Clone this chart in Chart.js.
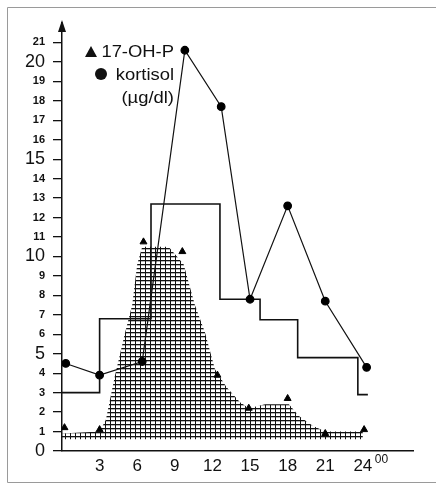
<!DOCTYPE html>
<html>
<head>
<meta charset="utf-8">
<script src="https://cdn.jsdelivr.net/npm/chart.js@4.4.0/dist/chart.umd.min.js"></script>
<style>
  html, body { margin: 0; padding: 0; background: #fff; }
  #wrap { position: relative; width: 437px; height: 484px; }
</style>
</head>
<body>
<div id="wrap"><canvas id="hormoneChart"></canvas></div>
<script>
// cortisol (circles, joined)
const cortisolHours = [0.3, 3, 6.4, 9.8, 12.7, 15, 18, 21, 24.3];
const cortisolValues = [4.5, 3.9, 4.6, 20.6, 17.7, 7.8, 12.6, 7.7, 4.3];

// 17-OH-P (triangles)
const ohpHours = [0.2, 3, 6.5, 9.6, 12.4, 14.9, 18, 21, 24.1];
const ohpValues = [1.2, 1.1, 10.75, 10.25, 3.9, 2.2, 2.7, 0.9, 1.1];

// step line
const stepHours = [0, 3, 7.1, 12.6, 15.8, 18.8, 23.6, 24.4];
const stepValues = [3, 6.8, 12.7, 7.8, 6.75, 4.8, 2.9, 2.9];

// hatched band, upper edge
const hatchHours = [0, 3, 3.5, 4.2, 5, 5.6, 6, 6.4, 8.5, 9.7, 10.6, 11.4, 12.2, 13.1, 14.2, 14.9, 16.2, 18.1, 18.9, 20, 21, 24];
const hatchUpper = [0.9, 1.0, 1.6, 3.8, 6.0, 7.5, 9.6, 10.5, 10.5, 9.6, 7.5, 6.1, 4.2, 3.3, 2.5, 2.2, 2.4, 2.4, 1.8, 1.3, 1.0, 1.0];
const hatchBase = 0.6;

const xTickLabels = [3, 6, 9, 12, 15, 18, 21, 24];
const yBigLabels = [0, 5, 10, 15, 20];
const yTopLabel = 21;

const FONT = "'Liberation Sans', Arial, sans-serif";

function toPoints(xs, ys) {
  return xs.map((x, i) => ({ x: x, y: ys[i] }));
}

function makeHatch(ctx) {
  const c = document.createElement("canvas");
  c.width = 5;
  c.height = 4;
  const g = c.getContext("2d");
  g.fillStyle = "#111";
  g.fillRect(0, 0, 5, 1.3);
  g.fillRect(0, 0, 1, 4);
  return ctx.createPattern(c, "repeat");
}

const decor = {
  id: "decor",
  afterDraw(chart) {
    const ctx = chart.ctx;
    const area = chart.chartArea;
    const yAxisX = chart.scales.x.getPixelForValue(0);
    ctx.save();

    // frame
    ctx.strokeStyle = "#9a9a9a";
    ctx.lineWidth = 1;
    ctx.beginPath();
    ctx.moveTo(7.5, 7.5); ctx.lineTo(436, 7.5);
    ctx.moveTo(7.5, 7.5); ctx.lineTo(7.5, 482.5);
    ctx.lineTo(436, 482.5);
    ctx.stroke();

    // arrow on y axis
    ctx.fillStyle = "#111";
    ctx.beginPath();
    ctx.moveTo(yAxisX, area.top - 3);
    ctx.lineTo(yAxisX - 4, area.top + 9);
    ctx.lineTo(yAxisX + 4, area.top + 9);
    ctx.closePath();
    ctx.fill();

    // legend
    ctx.textAlign = "right";
    ctx.textBaseline = "alphabetic";
    ctx.font = "16px " + FONT;
    const lines = [["17-OH-P", 57], ["kortisol", 80], ["(\u00b5g/dl)", 103]];
    lines.forEach(([t, y]) => {
      ctx.save();
      ctx.translate(174, y);
      ctx.scale(1.15, 1);
      ctx.fillText(t, 0, 0);
      ctx.restore();
    });
    ctx.beginPath();
    ctx.moveTo(91, 46);
    ctx.lineTo(85, 57);
    ctx.lineTo(97, 57);
    ctx.closePath();
    ctx.fill();
    ctx.beginPath();
    ctx.arc(101, 74, 6, 0, Math.PI * 2);
    ctx.fill();

    // 24^00
    ctx.textAlign = "left";
    ctx.font = "12px " + FONT;
    ctx.fillText("00", chart.scales.x.getPixelForValue(24) + 12, 463);
    ctx.restore();
  },
};

const canvas = document.getElementById("hormoneChart");
const hatch = makeHatch(canvas.getContext("2d"));

new Chart(canvas, {
  type: "line",
  data: {
    datasets: [
      {
        label: "band",
        data: toPoints(hatchHours, hatchUpper),
        borderWidth: 0,
        pointRadius: 0,
        backgroundColor: hatch,
        fill: { value: hatchBase },
        order: 4,
      },
      {
        label: "step",
        data: toPoints(stepHours, stepValues),
        stepped: "before",
        borderColor: "#111",
        borderWidth: 1.6,
        pointRadius: 0,
        fill: false,
        order: 3,
      },
      {
        label: "kortisol",
        data: toPoints(cortisolHours, cortisolValues),
        borderColor: "#111",
        borderWidth: 1.2,
        pointRadius: 3.8,
        pointStyle: "circle",
        pointBackgroundColor: "#000",
        pointBorderColor: "#000",
        fill: false,
        order: 2,
      },
      {
        label: "17-OH-P",
        data: toPoints(ohpHours, ohpValues),
        showLine: false,
        pointRadius: 4,
        pointStyle: "triangle",
        pointBackgroundColor: "#000",
        pointBorderColor: "#000",
        order: 1,
      },
    ],
  },
  options: {
    responsive: true,
    maintainAspectRatio: false,
    animation: false,
    layout: { padding: { top: 23, right: 24, left: 0, bottom: 0 } },
    plugins: { legend: { display: false }, tooltip: { enabled: false } },
    scales: {
      x: {
        type: "linear",
        min: 0,
        max: 28,
        afterFit: (s) => { s.height = 33; },
        grid: { display: false, drawTicks: false },
        border: { display: true, color: "#111", width: 1.5 },
        ticks: {
          stepSize: 3,
          autoSkip: false,
          maxRotation: 0,
          padding: 5,
          color: "#111",
          font: { family: FONT, size: 17 },
          callback: (v) => (xTickLabels.includes(v) ? String(v) : null),
        },
      },
      y: {
        min: 0,
        max: 22,
        afterFit: (s) => { s.width = 62; },
        grid: {
          drawOnChartArea: false,
          drawTicks: true,
          tickLength: 9,
          lineWidth: 1.3,
          color: (c) => (c.tick && c.tick.value <= yTopLabel ? "#111" : "rgba(0,0,0,0)"),
        },
        border: { display: true, color: "#111", width: 1.5 },
        ticks: {
          stepSize: 1,
          autoSkip: false,
          padding: 8,
          color: "#111",
          font: (c) =>
            c.tick && yBigLabels.includes(c.tick.value)
              ? { family: FONT, size: 18 }
              : { family: FONT, size: 11, weight: "bold" },
          callback: (v) => (v <= yTopLabel ? String(v) : null),
        },
      },
    },
  },
  plugins: [decor],
});
</script>
</body>
</html>
